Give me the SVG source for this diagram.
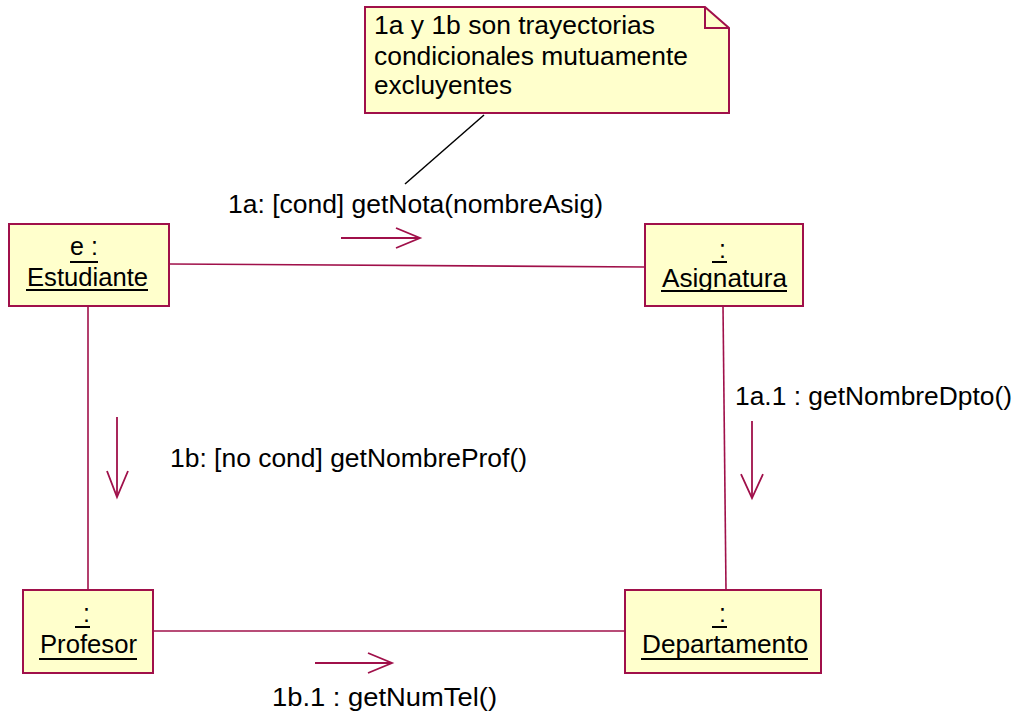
<svg xmlns="http://www.w3.org/2000/svg" width="1015" height="711" viewBox="0 0 1015 711">
  <style>
    .box { fill: #FFFFCC; stroke: #A0104A; stroke-width: 2; }
    .link { fill: none; stroke: #A0104A; stroke-width: 1.6; }
    .msg { fill: none; stroke: #A0104A; stroke-width: 1.8; }
    .anchor { fill: none; stroke: #000000; stroke-width: 1.5; }
    .ul { stroke: #000000; stroke-width: 2; }
    text { font-family: "Liberation Sans", Arial, sans-serif; font-size: 25px; fill: #000000; }
    .c { text-anchor: middle; }
  </style>
  <rect width="1015" height="711" fill="#FFFFFF"/>

  <!-- connectors: links, message arrows, note anchor -->
  <g id="connectors">
    <line class="link" x1="169" y1="264" x2="645" y2="267"/>
    <line class="link" x1="88" y1="306" x2="88" y2="590"/>
    <line class="link" x1="723" y1="306" x2="726" y2="590"/>
    <line class="link" x1="153" y1="631" x2="625" y2="631"/>
    <line class="anchor" x1="405" y1="184" x2="484" y2="115"/>

    <!-- 1a -->
    <line class="msg" x1="341" y1="238" x2="420" y2="238"/>
    <polyline class="msg" points="396,228 420,238 396,248"/>
    <!-- 1b -->
    <line class="msg" x1="117" y1="417" x2="117" y2="497"/>
    <polyline class="msg" points="107,471 117,497 128,471"/>
    <!-- 1a.1 -->
    <line class="msg" x1="752" y1="421" x2="752" y2="498"/>
    <polyline class="msg" points="741,474 752,498 763,474"/>
    <!-- 1b.1 -->
    <line class="msg" x1="315" y1="663" x2="392" y2="663"/>
    <polyline class="msg" points="368,653 392,663 368,673"/>

    <text x="228" y="213" textLength="375" lengthAdjust="spacingAndGlyphs">1a: [cond] getNota(nombreAsig)</text>
    <text x="170" y="467" textLength="357" lengthAdjust="spacingAndGlyphs">1b: [no cond] getNombreProf()</text>
    <text x="735" y="405" textLength="277" lengthAdjust="spacingAndGlyphs">1a.1 : getNombreDpto()</text>
    <text x="272" y="706" textLength="225" lengthAdjust="spacingAndGlyphs">1b.1 : getNumTel()</text>
  </g>

  <!-- note -->
  <g id="note">
    <path class="box" d="M365,7 H705 L729,28 V113 H365 Z"/>
    <polyline class="box" points="705,7 705,28 729,28" style="fill:none"/>
    <text x="374" y="34" textLength="281" lengthAdjust="spacingAndGlyphs">1a y 1b son trayectorias</text>
    <text x="374" y="65" textLength="314" lengthAdjust="spacingAndGlyphs">condicionales mutuamente</text>
    <text x="374" y="94" textLength="138" lengthAdjust="spacingAndGlyphs">excluyentes</text>
  </g>

  <g id="estudiante">
    <rect class="box" x="9" y="224" width="160" height="82"/>
    <text class="c" x="84" y="255">e :</text>
    <line class="ul" x1="70" y1="262" x2="98" y2="262"/>
    <text x="27" y="286" textLength="121" lengthAdjust="spacingAndGlyphs">Estudiante</text>
    <line class="ul" x1="26" y1="290" x2="148" y2="290"/>
  </g>

  <g id="asignatura">
    <rect class="box" x="645" y="224" width="158" height="82"/>
    <text x="719" y="258">:</text>
    <line class="ul" x1="712" y1="262" x2="727" y2="262"/>
    <text x="662" y="287" textLength="125" lengthAdjust="spacingAndGlyphs">Asignatura</text>
    <line class="ul" x1="661" y1="291" x2="787" y2="291"/>
  </g>

  <g id="profesor">
    <rect class="box" x="23" y="590" width="130" height="83"/>
    <text x="83" y="622">:</text>
    <line class="ul" x1="75" y1="627" x2="90" y2="627"/>
    <text x="40" y="653" textLength="97" lengthAdjust="spacingAndGlyphs">Profesor</text>
    <line class="ul" x1="39" y1="659" x2="137" y2="659"/>
  </g>

  <g id="departamento">
    <rect class="box" x="625" y="590" width="196" height="83"/>
    <text x="719" y="622">:</text>
    <line class="ul" x1="712" y1="627" x2="727" y2="627"/>
    <text x="642" y="653" textLength="166" lengthAdjust="spacingAndGlyphs">Departamento</text>
    <line class="ul" x1="641" y1="659" x2="808" y2="659"/>
  </g>
</svg>
